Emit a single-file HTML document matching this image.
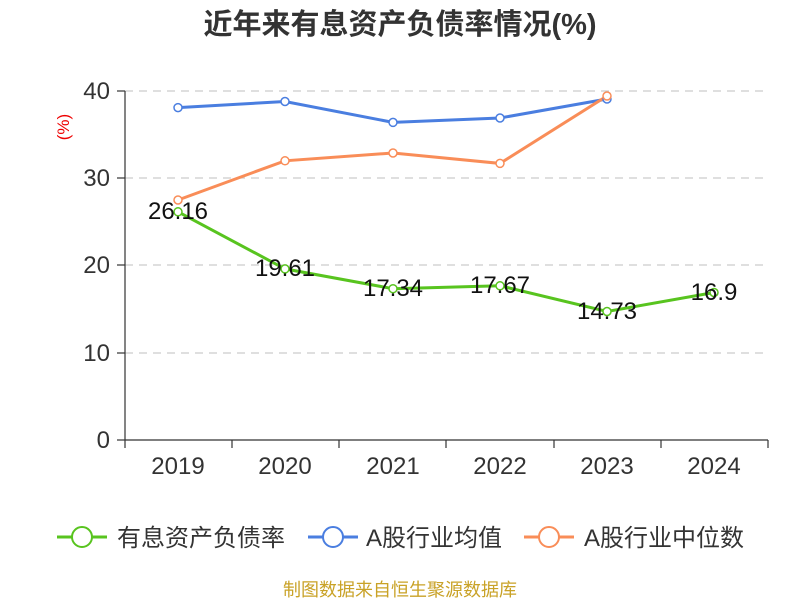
<!DOCTYPE html>
<html><head><meta charset="utf-8"><style>
body{margin:0;background:#fff;}
svg text{font-family:"Liberation Sans","Noto Sans CJK SC",sans-serif;}
</style></head><body>
<svg width="800" height="600" xmlns="http://www.w3.org/2000/svg">
<text x="400" y="34" text-anchor="middle" font-size="29" font-weight="bold" fill="#333">近年来有息资产负债率情况(%)</text>
<text x="69" y="127" font-size="17" fill="#e00" transform="rotate(-90 69 127)" text-anchor="middle">(%)</text>
<g stroke="#ccc" stroke-dasharray="8,6" stroke-width="1.2">
<line x1="125" y1="91" x2="768" y2="91"/><line x1="125" y1="178" x2="768" y2="178"/>
<line x1="125" y1="265" x2="768" y2="265"/><line x1="125" y1="353" x2="768" y2="353"/>
</g>
<g stroke="#333" stroke-width="1.2">
<line x1="125" y1="91" x2="125" y2="440"/><line x1="125" y1="440" x2="768" y2="440"/>
<line x1="117" y1="91" x2="125" y2="91"/><line x1="117" y1="178" x2="125" y2="178"/><line x1="117" y1="265" x2="125" y2="265"/><line x1="117" y1="353" x2="125" y2="353"/><line x1="117" y1="440" x2="125" y2="440"/>
<line x1="125" y1="440" x2="125" y2="448"/><line x1="232" y1="440" x2="232" y2="448"/><line x1="339" y1="440" x2="339" y2="448"/><line x1="446" y1="440" x2="446" y2="448"/><line x1="554" y1="440" x2="554" y2="448"/><line x1="661" y1="440" x2="661" y2="448"/><line x1="768" y1="440" x2="768" y2="448"/>
</g>
<g font-size="24" fill="#333" text-anchor="end">
<text x="110" y="99">40</text><text x="110" y="186">30</text><text x="110" y="273">20</text><text x="110" y="361">10</text><text x="110" y="448">0</text>
</g>
<g font-size="24" fill="#333" text-anchor="middle">
<text x="178" y="474">2019</text><text x="285" y="474">2020</text><text x="393" y="474">2021</text><text x="500" y="474">2022</text><text x="607" y="474">2023</text><text x="714" y="474">2024</text>
</g>
<polyline fill="none" stroke="#4a7ee0" stroke-width="3" points="178,107.6 285,101.5 393,122.4 500,118 607,99"/>
<polyline fill="none" stroke="#f98d58" stroke-width="3" points="178,200 285,160.8 393,153 500,163.4 607,96"/>
<polyline fill="none" stroke="#58c41f" stroke-width="3" points="178,211.8 285,268.9 393,288.7 500,285.8 607,311.5 714,292.5"/>
<g fill="#fff" stroke="#4a7ee0" stroke-width="1.5"><circle cx="178" cy="107.6" r="4"/><circle cx="285" cy="101.5" r="4"/><circle cx="393" cy="122.4" r="4"/><circle cx="500" cy="118" r="4"/><circle cx="607" cy="99" r="4"/></g>
<g fill="#fff" stroke="#f98d58" stroke-width="1.5"><circle cx="178" cy="200" r="4"/><circle cx="285" cy="160.8" r="4"/><circle cx="393" cy="153" r="4"/><circle cx="500" cy="163.4" r="4"/><circle cx="607" cy="96" r="4"/></g>
<g fill="#fff" stroke="#58c41f" stroke-width="1.5"><circle cx="178" cy="211.8" r="4"/><circle cx="285" cy="268.9" r="4"/><circle cx="393" cy="288.7" r="4"/><circle cx="500" cy="285.8" r="4"/><circle cx="607" cy="311.5" r="4"/><circle cx="714" cy="292.5" r="4"/></g>
<g font-size="24" fill="#111" text-anchor="middle">
<text x="178" y="219">26.16</text><text x="285" y="276">19.61</text><text x="393" y="296">17.34</text><text x="500" y="293">17.67</text><text x="607" y="319">14.73</text><text x="714" y="300">16.9</text>
</g>
<g font-size="24" fill="#333">
<line x1="57" y1="537" x2="107" y2="537" stroke="#58c41f" stroke-width="3"/><circle cx="82" cy="537" r="10" fill="#fff" stroke="#58c41f" stroke-width="2"/>
<text x="117" y="546">有息资产负债率</text>
<line x1="308" y1="537" x2="358" y2="537" stroke="#4a7ee0" stroke-width="3"/><circle cx="333" cy="537" r="10" fill="#fff" stroke="#4a7ee0" stroke-width="2"/>
<text x="366" y="546">A股行业均值</text>
<line x1="524" y1="537" x2="574" y2="537" stroke="#f98d58" stroke-width="3"/><circle cx="549" cy="537" r="10" fill="#fff" stroke="#f98d58" stroke-width="2"/>
<text x="584" y="546">A股行业中位数</text>
</g>
<text x="400" y="596" font-size="18" fill="#c9a227" text-anchor="middle">制图数据来自恒生聚源数据库</text>
</svg>
</body></html>
